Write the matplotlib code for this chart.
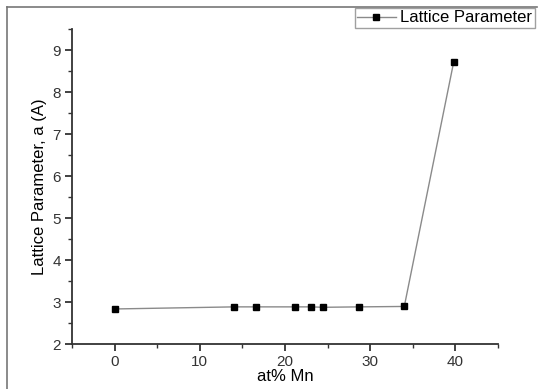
import matplotlib
matplotlib.use('Agg')
import matplotlib.pyplot as plt
from matplotlib.lines import Line2D
from matplotlib.ticker import MultipleLocator

plt.rcParams['font.family'] = ['Liberation Sans', 'DejaVu Sans']

atMn = [0, 14, 16.6, 21.2, 23.0, 24.5, 28.7, 34.0, 39.8]
latticeA = [2.84, 2.89, 2.89, 2.89, 2.89, 2.88, 2.89, 2.90, 8.72]

fig = plt.figure(figsize=(5.58, 3.89), dpi=100)
ax = fig.add_axes([0.129, 0.115, 0.7635, 0.81])

ax.plot(atMn, latticeA, color='#8a8a8a', linewidth=1.0, marker='s',
        markersize=4.5, markerfacecolor='black', markeredgecolor='black',
        label='Lattice Parameter')

ax.set_xlim(-5, 45)
ax.set_ylim(2, 9.5)
ax.xaxis.set_major_locator(MultipleLocator(10))
ax.xaxis.set_minor_locator(MultipleLocator(5))
ax.yaxis.set_major_locator(MultipleLocator(1))
ax.yaxis.set_minor_locator(MultipleLocator(0.5))

for side in ['top', 'right']:
    ax.spines[side].set_visible(False)
for side in ['left', 'bottom']:
    ax.spines[side].set_linewidth(1.3)
    ax.spines[side].set_color('#333333')

ax.tick_params(which='major', direction='out', length=5, width=1.3,
               colors='#333333', labelsize=11, labelcolor='#333333', pad=3)
ax.tick_params(which='minor', direction='out', length=3, width=1.0, colors='#333333')

ax.set_xlabel('at% Mn', fontsize=12, labelpad=0)
ax.set_ylabel('Lattice Parameter, a (A)', fontsize=12, labelpad=4)

ax.legend(loc='upper right', bbox_to_anchor=(535 / 558, 1 - 8 / 389),
          bbox_transform=fig.transFigure, fontsize=12, frameon=True,
          fancybox=False, edgecolor='#888888', borderpad=0.15,
          handlelength=2.3, handletextpad=0.3, borderaxespad=0)

# outer page frame (left and top edge)
fig.add_artist(Line2D([7 / 558, 7 / 558], [0, 1 - 7 / 389], transform=fig.transFigure,
                      color='#777777', linewidth=1.2))
fig.add_artist(Line2D([7 / 558, 537 / 558], [1 - 7 / 389, 1 - 7 / 389], transform=fig.transFigure,
                      color='#777777', linewidth=1.2))

fig.savefig('out.png', dpi=100)
